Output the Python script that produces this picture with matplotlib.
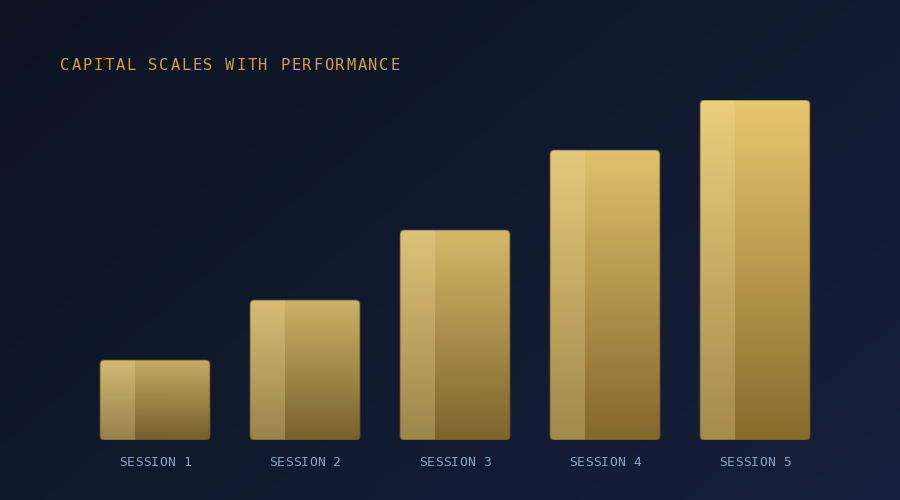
import numpy as np
import matplotlib
matplotlib.use("Agg")
import matplotlib.pyplot as plt
from matplotlib.patches import FancyBboxPatch
from matplotlib.colors import to_rgb

# ---- data ----
categories = ["SESSION 1", "SESSION 2", "SESSION 3", "SESSION 4", "SESSION 5"]
values = [8, 14, 21, 29, 34]
title = "CAPITAL SCALES WITH PERFORMANCE"

W, H, DPI = 900, 500, 100
fig = plt.figure(figsize=(W / DPI, H / DPI), dpi=DPI)

# background gradient (diagonal)
bg = fig.add_axes([0, 0, 1, 1])
bg.set_axis_off()
yy, xx = np.mgrid[0:1:250j, 0:1:450j]
t = (xx * 0.6 + yy * 0.4)
c0 = np.array(to_rgb("#0c1220"))
c1 = np.array(to_rgb("#15203c"))
img = c0[None, None, :] * (1 - t[..., None]) + c1[None, None, :] * t[..., None]
bg.imshow(img, extent=[0, 1, 1, 0], aspect="auto", interpolation="bilinear")
bg.set_xlim(0, 1)
bg.set_ylim(1, 0)

# bars axes: x band scale 80..830 px, y 0..34 over 440..100 px
left_px, right_px = 80, 830
base_px, top_px = 440, 100
ax = fig.add_axes([left_px / W, (H - base_px) / H, (right_px - left_px) / W, (base_px - top_px) / H])
ax.set_axis_off()
ax.patch.set_alpha(0)
x = np.arange(len(categories))
bw = 110 / 150
ax.set_xlim(-0.5, len(categories) - 0.5)
ax.set_ylim(0, max(values))
bars = ax.bar(x, values, width=bw, color="none", edgecolor="none")

px_per_x = 150.0
px_per_y = (base_px - top_px) / max(values)
r_px = 4.5
r_x = r_px / px_per_x
aspect = (r_px / px_per_y) / r_x

top_c = np.array(to_rgb("#e8c76f"))
bot_c = np.array(to_rgb("#886b2c"))
vmax = max(values)
for b, v in zip(bars, values):
    x0, w, h = b.get_x(), b.get_width(), b.get_height()
    alpha = 0.8 + 0.2 * v / vmax
    patch = FancyBboxPatch((x0, 0), w, h, boxstyle=f"round,pad=0,rounding_size={r_x}",
                           mutation_aspect=aspect, facecolor="none",
                           edgecolor=(0.40, 0.31, 0.12, 0.6), linewidth=1.0, zorder=4)
    ax.add_patch(patch)
    g = np.linspace(0, 1, 200)[:, None]
    grad = top_c[None, :] * (1 - g) + bot_c[None, :] * g
    rgba = np.zeros((200, 2, 4))
    rgba[..., :3] = grad[:, None, :]
    rgba[..., 3] = alpha
    im = ax.imshow(rgba, extent=[x0, x0 + w, 0, h], aspect="auto",
                   interpolation="bilinear", zorder=2)
    im.set_clip_path(patch)
    # left highlight strip (light gold overlay)
    strip = np.zeros((2, 2, 4))
    strip[..., :3] = to_rgb("#f3dfa0")
    strip[..., 3] = 0.28
    im2 = ax.imshow(strip, extent=[x0, x0 + w * 0.31, 0, h], aspect="auto", zorder=3)
    im2.set_clip_path(patch)
ax.set_xlim(-0.5, len(categories) - 0.5)
ax.set_ylim(0, max(values))

# text overlay in pixel coords
tx = fig.add_axes([0, 0, 1, 1])
tx.set_axis_off()
tx.patch.set_alpha(0)
tx.set_xlim(0, W)
tx.set_ylim(H, 0)

mono = "DejaVu Sans Mono"

def spaced(text, x_left, y_base, pitch, size_px, color):
    for i, ch in enumerate(text):
        if ch == " ":
            continue
        tx.text(x_left + pitch * (i + 0.5), y_base, ch, ha="center", va="baseline",
                fontsize=size_px * 72 / DPI, family=mono, color=color)

spaced(title, 59.5, 70.5, 11.0, 15.5, "#d09f48")

fig.canvas.draw()
for b, lab in zip(bars, categories):
    cx = ax.transData.transform((b.get_x() + b.get_width() / 2, 0))[0]
    pitch = 8.0
    n = len(lab)
    spaced(lab, cx - pitch * n / 2, 466, pitch, 13, "#8ea2c0")

fig.savefig("out.png", dpi=DPI)
